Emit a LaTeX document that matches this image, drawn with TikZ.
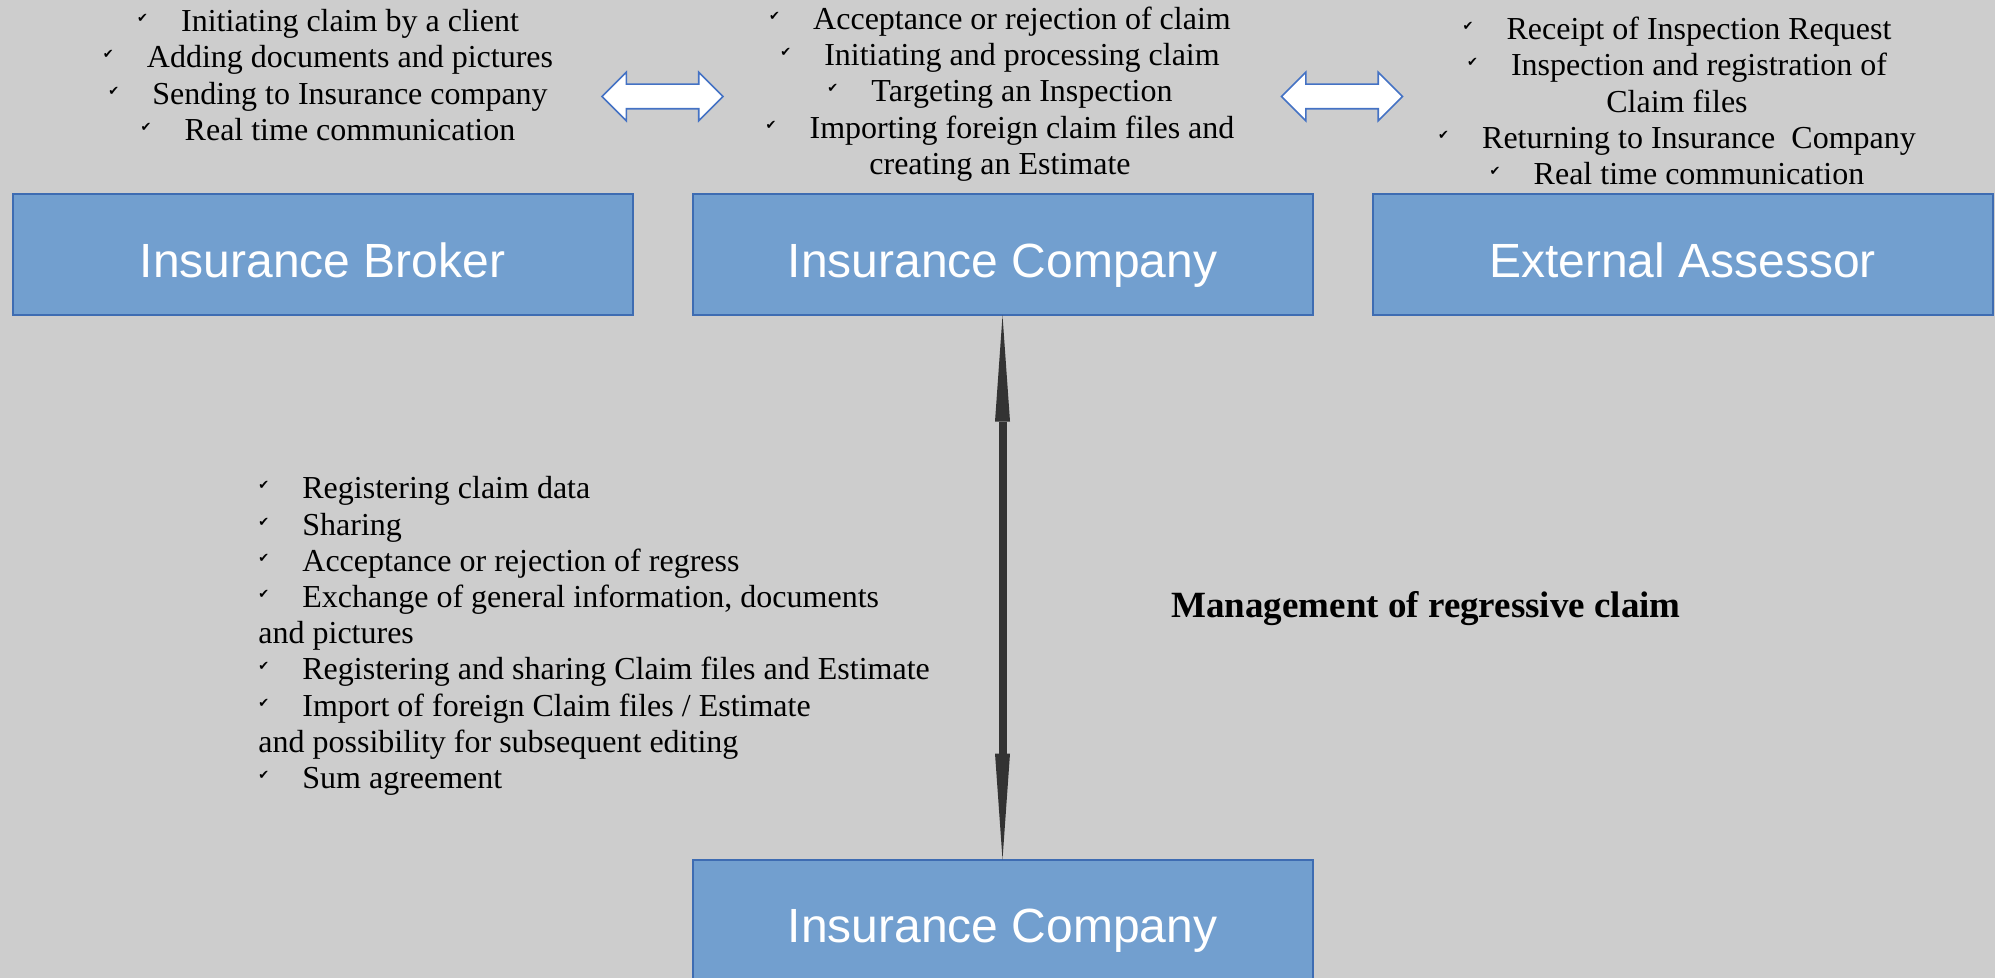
\documentclass[tikz,border=0pt]{standalone}
\usepackage{fontspec}
\setmainfont{Liberation Serif}
\newfontfamily\boxfont{Liberation Sans}
\newfontfamily\symfont{DejaVu Sans}
\usepackage{tikz}
\usetikzlibrary{arrows.meta}
\usetikzlibrary{chains,positioning}
\usetikzlibrary{shapes.arrows}
\definecolor{bg}{RGB}{205,205,205}
\definecolor{boxfill}{RGB}{114,159,207}
\definecolor{boxline}{RGB}{62,108,178}
\definecolor{arrline}{RGB}{68,114,196}
\definecolor{vline}{RGB}{51,51,51}
\newcommand{\chkmark}{\makebox[22pt][l]{\raisebox{4.5pt}{\symfont\fontsize{6.5}{6.5}\selectfont ✔}}}

\begin{document}
\begin{tikzpicture}[x=0.5pt, y=-0.5pt,
		node distance=30pt,
		P/.style = {rectangle, draw=boxline, line width=1pt, fill=boxfill,% the parties
			minimum width=310pt, minimum height=60.5pt,
			text height=22.3pt, text depth=0pt,
			outer sep=0pt, text=white, font=\boxfont\fontsize{24}{28}\selectfont},
		T/.style = {align=center, inner sep=0pt,% task lists
			font=\fontsize{16}{18.1}\selectfont},
		D/.style = {double arrow, draw=arrline, line width=0.8pt, fill=white,
			minimum width=23.5pt, minimum height=60.5pt,
			double arrow head extend=6pt, inner xsep=0pt, inner ysep=5.75pt},
		V/.tip = {Triangle[length=53pt, width=7.5pt, line width=0pt]},
		]
		\fill[bg] (0,0) rectangle (1995,978);
		\useasboundingbox (0,0) rectangle (1995,978);
		\begin{scope}[start chain = P going right, shift={(322.5,255)}]
		\foreach \p in {Insurance Broker,Insurance Company,External Assessor}% <-- parties
		\node[P, on chain] {\p};
		\end{scope}
		\node[P, below=272pt of P-2] (Q) {Insurance Company};
		\draw[vline, line width=4pt, V-V] (P-2.south) -- (Q.north);
		% tasks above the parties
		\node[T] (tb) at (328,75) {\chkmark Initiating claim by a client\\
			\chkmark Adding documents and pictures\\
			\chkmark Sending to Insurance company\\
			\chkmark Real time communication};
		\node[T] (tc) at (1000,94) {\chkmark Acceptance or rejection of claim\\
			\chkmark Initiating and processing claim\\
			\chkmark Targeting an Inspection\\
			\chkmark Importing foreign claim files and\\
			creating an Estimate};
		\node[T] (ta) at (1677,101) {\chkmark Receipt of Inspection Request\\
			\chkmark Inspection and registration of\\
			Claim files\\
			\chkmark Returning to Insurance~ Company\\
			\chkmark Real time communication};
		\node[D] (dl) at (662.5,96.5) {};
		\node[D] (dr) at (1342,96.5) {};
		% regress between the companies
		\node[T, align=left, anchor=west] (tr) at (258,636) {\chkmark Registering claim data\\
			\chkmark Sharing\\
			\chkmark Acceptance or rejection of regress\\
			\chkmark Exchange of general information, documents\\
			and pictures\\
			\chkmark Registering and sharing Claim files and Estimate\\
			\chkmark Import of foreign Claim files / Estimate\\
			and possibility for subsequent editing\\
			\chkmark Sum agreement};
		\node[font=\bfseries\fontsize{18.5}{22}\selectfont] (mr) at (1426,609) {Management of regressive claim};
	\end{tikzpicture}
\end{document}
